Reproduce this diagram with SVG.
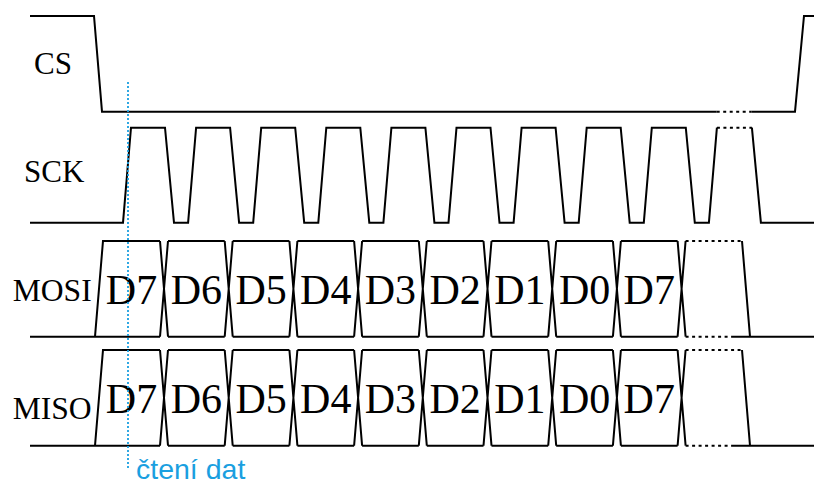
<svg xmlns="http://www.w3.org/2000/svg" width="814" height="483" viewBox="0 0 814 483">
<style>
.w{fill:none;stroke:#000;stroke-width:2;stroke-linejoin:miter}
.d{fill:none;stroke:#000;stroke-width:2;stroke-dasharray:3,3.5}
.lbl{font-family:"Liberation Serif","Times New Roman",serif;font-size:31px;fill:#000}
.dat{font-family:"Liberation Serif","Times New Roman",serif;font-size:42px;fill:#000;text-anchor:middle}
.blue{font-family:"Liberation Sans",Arial,sans-serif;font-size:28.5px;fill:#1a9fe0}
</style>
<defs>
<g id="bus">
<path class="w" d="M30,336.7 H160 M95,336.7 L103,241 H160 M160,241 L168,336.7 M160,336.7 L168,241 M168,241 H224.7 M168,336.7 H224.7 M224.7,241 L232.7,336.7 M224.7,336.7 L232.7,241 M232.7,241 H289.4 M232.7,336.7 H289.4 M289.4,241 L297.4,336.7 M289.4,336.7 L297.4,241 M297.4,241 H354.1 M297.4,336.7 H354.1 M354.1,241 L362.1,336.7 M354.1,336.7 L362.1,241 M362.1,241 H418.8 M362.1,336.7 H418.8 M418.8,241 L426.8,336.7 M418.8,336.7 L426.8,241 M426.8,241 H483.5 M426.8,336.7 H483.5 M483.5,241 L491.5,336.7 M483.5,336.7 L491.5,241 M491.5,241 H548.2 M491.5,336.7 H548.2 M548.2,241 L556.2,336.7 M548.2,336.7 L556.2,241 M556.2,241 H612.9 M556.2,336.7 H612.9 M612.9,241 L620.9,336.7 M612.9,336.7 L620.9,241 M620.9,241 H677.6 M620.9,336.7 H677.6 M677.6,241 L685.6,336.7 M677.6,336.7 L685.6,241 M742,241 L750,336.7 M733,336.7 H814"/>
<path class="d" d="M685.6,241 H742 M685.6,336.7 H733"/>
</g>
</defs>

<g id="cs">
<text class="lbl" x="34" y="74">CS</text>
<path class="w" d="M30,16 H94 L102,111.7 H716.7 M751.7,111.7 H795 L804,16 H814"/>
<path class="d" d="M716.7,111.7 H751.7"/>
</g>

<g id="sck">
<text class="lbl" x="24" y="182">SCK</text>
<path class="w" d="M30,222.7 H123 L131,127.7 H165 L174,222.7 H188.1 L196.1,127.7 H230.1 L239.1,222.7 H253.2 L261.2,127.7 H295.2 L304.2,222.7 H318.3 L326.3,127.7 H360.3 L369.3,222.7 H383.4 L391.4,127.7 H425.4 L434.4,222.7 H448.5 L456.5,127.7 H490.5 L499.5,222.7 H513.6 L521.6,127.7 H555.6 L564.6,222.7 H578.7 L586.7,127.7 H620.7 L629.7,222.7 H643.8 L651.8,127.7 H685.8 L694.8,222.7 H708.9 L716.9,127.7 M751.9,127.7 L760.9,222.7 H814"/>
<path class="d" d="M716.9,127.7 H751.9"/>
</g>

<g id="mosi">
<text class="lbl" x="12.7" y="300.7" textLength="79" lengthAdjust="spacingAndGlyphs">MOSI</text>
<use href="#bus"/>
<text class="dat" x="131.5" y="303.5">D7</text>
<text class="dat" x="196.35" y="303.5">D6</text>
<text class="dat" x="261.05" y="303.5">D5</text>
<text class="dat" x="325.75" y="303.5">D4</text>
<text class="dat" x="390.45" y="303.5">D3</text>
<text class="dat" x="455.15" y="303.5">D2</text>
<text class="dat" x="519.85" y="303.5">D1</text>
<text class="dat" x="584.55" y="303.5">D0</text>
<text class="dat" x="649.25" y="303.5">D7</text>
</g>

<g id="miso">
<text class="lbl" x="12.7" y="419" textLength="79" lengthAdjust="spacingAndGlyphs">MISO</text>
<use href="#bus" transform="translate(0,109)"/>
<text class="dat" x="131.5" y="412.5">D7</text>
<text class="dat" x="196.35" y="412.5">D6</text>
<text class="dat" x="261.05" y="412.5">D5</text>
<text class="dat" x="325.75" y="412.5">D4</text>
<text class="dat" x="390.45" y="412.5">D3</text>
<text class="dat" x="455.15" y="412.5">D2</text>
<text class="dat" x="519.85" y="412.5">D1</text>
<text class="dat" x="584.55" y="412.5">D0</text>
<text class="dat" x="649.25" y="412.5">D7</text>
</g>

<g id="read-marker">
<line x1="128" y1="82" x2="128" y2="470" stroke="#1a9fe0" stroke-width="1.8" stroke-dasharray="2,2"/>
<text class="blue" x="136" y="478.5">čtení dat</text>
</g>
</svg>
